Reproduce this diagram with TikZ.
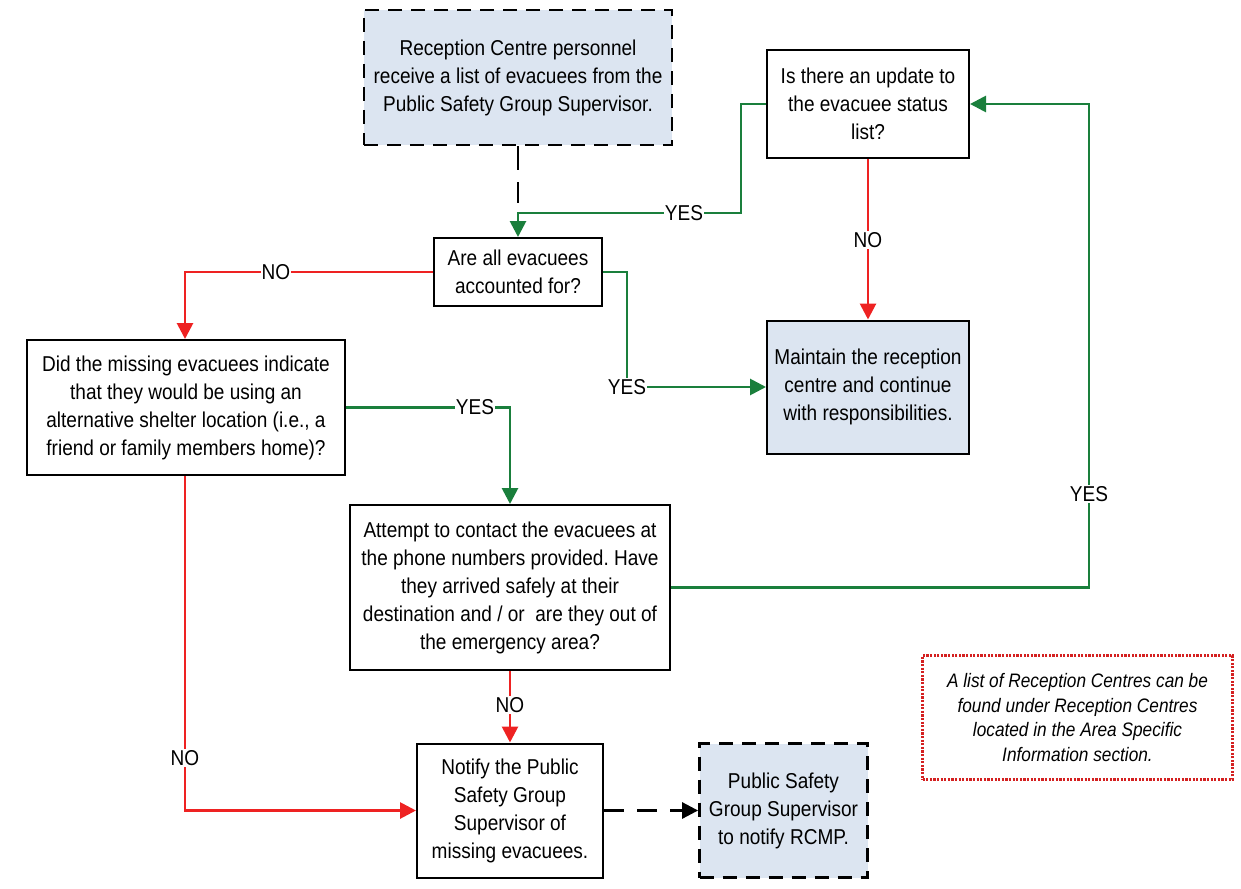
\documentclass[tikz,border=0pt]{standalone}
\usepackage{fontspec}
\setmainfont{Liberation Sans}[FakeStretch=0.885]
\usetikzlibrary{arrows.meta}
\frenchspacing
\definecolor{boxblue}{RGB}{220,229,241}
\definecolor{flowgreen}{RGB}{26,127,60}
\definecolor{flowred}{RGB}{238,34,34}
\definecolor{notered}{RGB}{212,32,32}
\tikzset{
  txt/.style={font=\fontsize{21.5}{28}\selectfont, align=center, text=black},
  plainbox/.style={txt, draw=black, line width=2pt, fill=white, rectangle, inner sep=0pt},
  termbox/.style={txt, draw=black, line width=2.8pt, fill=boxblue, rectangle, inner sep=0pt,
                  dash pattern=on 14pt off 9pt},
  endbox/.style={txt, draw=black, line width=2pt, fill=boxblue, rectangle, inner sep=0pt},
  notebox/.style={font=\fontsize{19.5}{24.5}\selectfont\itshape, align=center, draw=notered,
                  line width=2.2pt, dash pattern=on 2.2pt off 1.4pt, rectangle, inner sep=0pt},
  tip/.style={-{Triangle[length=16pt,width=16pt]}},
  gline/.style={draw=flowgreen, line width=2.8pt, tip},
  rline/.style={draw=flowred, line width=2.8pt, tip},
  kline/.style={draw=black, line width=2.8pt, dash pattern=on 20pt off 13pt},
  lab/.style={txt, fill=white, inner sep=1pt},
}
\begin{document}
\begin{tikzpicture}[x=1pt,y=-1pt]
\useasboundingbox (0,0) rectangle (1241,888);

% boxes
\node[termbox, minimum width=308pt, minimum height=135pt] (recv) at (518,77.5)
  {Reception Centre personnel\\receive a list of evacuees from the\\Public Safety Group Supervisor.};
\node[plainbox, minimum width=202pt, minimum height=108pt] (upd) at (868,104)
  {Is there an update to\\the evacuee status\\list?};
\node[plainbox, minimum width=168pt, minimum height=68pt] (acc) at (518,272)
  {Are all evacuees\\accounted for?};
\node[plainbox, minimum width=318pt, minimum height=135pt] (miss) at (186,407.5)
  {Did the missing evacuees indicate\\that they would be using an\\alternative shelter location (i.e., a\\friend or family members home)?};
\node[endbox, minimum width=202pt, minimum height=133pt] (keep) at (868,387)
  {Maintain the reception\\centre and continue\\with responsibilities.};
\node[plainbox, minimum width=320pt, minimum height=165pt] (call) at (510,587.5)
  {Attempt to contact the evacuees at\\the phone numbers provided. Have\\they arrived safely at their\\destination and / or\ \ are they out of\\the emergency area?};
\node[plainbox, minimum width=186pt, minimum height=134pt] (notify) at (510,810.5)
  {Notify the Public\\Safety Group\\Supervisor of\\missing evacuees.};
\node[termbox, minimum width=168pt, minimum height=134pt] (rcmp) at (783.5,810.5)
  {Public Safety\\Group Supervisor\\to notify RCMP.};
\node[notebox, minimum width=310pt, minimum height=124pt] (note) at (1077.5,717.5)
  {A list of Reception Centres can be\\found under Reception Centres\\located in the Area Specific\\Information section.};

% connectors
\coordinate (join) at (518,203);
\draw[kline, dash pattern=on 24pt off 12pt] (recv.south) -- (join);
\draw[gline] (upd.west) -- (741,104) -- (741,213) -- (518,213) -- (acc.north);
\draw[rline] (acc.west) -- (185,272) -- (miss.north -| 185,0);
\draw[gline] (acc.east) -- (627,272) -- (627,387) -- (keep.west);
\draw[rline] (upd.south) -- (keep.north);
\draw[gline] (miss.east) -- (510,407.5) -- (call.north);
\draw[gline] (call.east) -- (1089,587.5) -- (1089,104) -- (upd.east);
\draw[rline] (call.south) -- (notify.north);
\draw[rline] (miss.south -| 185,0) -- (185,810.5) -- (notify.west);
\draw[kline, tip] (notify.east) -- (rcmp.west);

% branch labels
\node[lab] (l1) at (684,213) {YES};
\node[lab] (l2) at (276,272) {NO};
\node[lab] (l3) at (627,387) {YES};
\node[lab] (l4) at (868,240) {NO};
\node[lab] (l5) at (475,407.5) {YES};
\node[lab] (l6) at (1089,494) {YES};
\node[lab] (l7) at (510,705) {NO};
\node[lab] (l8) at (185,758) {NO};
\end{tikzpicture}
\end{document}
